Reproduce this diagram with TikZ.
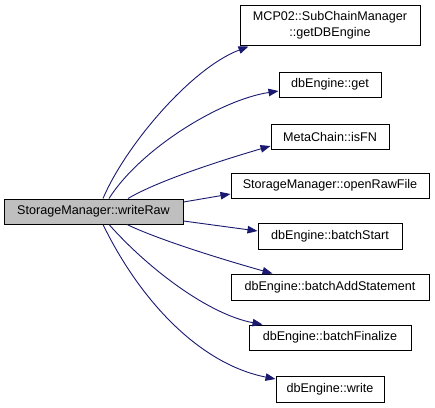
\documentclass[tikz,border=0pt]{standalone}
\usepackage{fontspec}
\setmainfont{Liberation Sans}
\usetikzlibrary{arrows.meta,calc}
\definecolor{edgeblue}{HTML}{191970}
\definecolor{maingray}{HTML}{BFBFBF}
\begin{document}
\begin{tikzpicture}[x=1pt,y=-1pt,
  fn/.style={draw=black,line width=1pt,fill=white,inner sep=0pt,align=center,
    font=\fontsize{12.6}{16}\selectfont},
  mainfn/.style={fn,fill=maingray},
  call/.style={draw=edgeblue,line width=0.9pt,-{Triangle[length=10pt,width=7.5pt]},fill=none},
]
\useasboundingbox (0,0) rectangle (435,407);
\node[mainfn,minimum width=179pt,minimum height=25pt] (main) at (93.5,211.5) {StorageManager::writeRaw};
\node[fn,minimum width=180pt,minimum height=40pt] (mcp) at (330,25) {MCP02::SubChainManager\\::getDBEngine};
\node[fn,minimum width=102pt,minimum height=25pt] (get) at (330,84.5) {dbEngine::get};
\node[fn,minimum width=118pt,minimum height=25pt] (isfn) at (330,136.5) {MetaChain::isFN};
\node[fn,minimum width=198pt,minimum height=25pt] (open) at (330,185.5) {StorageManager::openRawFile};
\node[fn,minimum width=144pt,minimum height=26pt] (bstart) at (330,236) {dbEngine::batchStart};
\node[fn,minimum width=198pt,minimum height=26pt] (badd) at (330,287) {dbEngine::batchAddStatement};
\node[fn,minimum width=162pt,minimum height=25pt] (bfin) at (330,337.5) {dbEngine::batchFinalize};
\node[fn,minimum width=108pt,minimum height=26pt] (write) at (330,389) {dbEngine::write};

\draw[call] ($(main.north)+(9.5,0)$) .. controls +(22,-52) and +(-58,22) .. ($(mcp.south west)+(9,1)$);
\draw[call] ($(main.north)+(15.5,0)$) .. controls +(31,-49) and +(-59,9) .. ($(get.west)+(0,6.5)$);
\draw[call] ($(main.north)+(34.5,0)$) .. controls +(32,-19) and +(-41,12) .. ($(isfn.west)+(0,9.5)$);
\draw[call] ($(main.east)+(0,-9.5)$) -- ($(open.west)+(0,8.5)$);
\draw[call] ($(main.east)+(0,9.5)$) -- ($(bstart.west)+(0,-5)$);
\draw[call] ($(main.south)+(33.5,0)$) .. controls +(33,16) and +(-43,-12) .. ($(badd.north west)+(42,0)$);
\draw[call] ($(main.south)+(15.5,0)$) .. controls +(41,46) and +(-53,-10) .. ($(bfin.north west)+(14,0)$);
\draw[call] ($(main.south)+(9.5,0)$) .. controls +(37,76) and +(-76,-15) .. ($(write.west)+(0,-10)$);
\end{tikzpicture}
\end{document}
